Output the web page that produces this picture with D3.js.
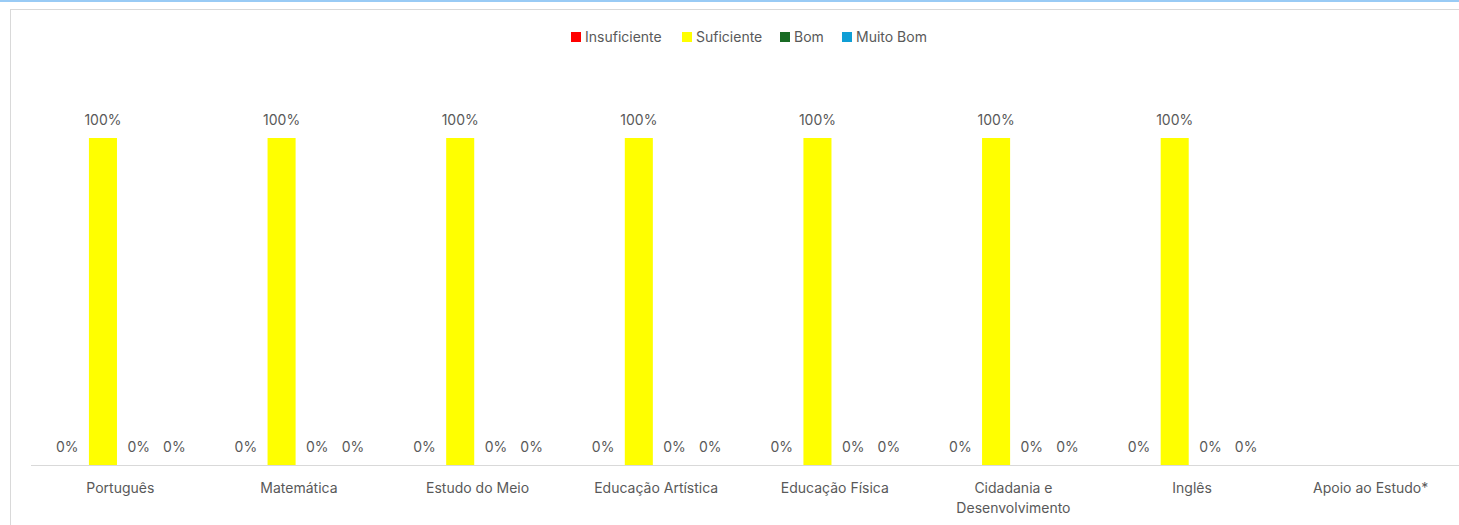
<!DOCTYPE html>
<html>
<head>
<meta charset="utf-8">
<script src="https://cdn.jsdelivr.net/npm/d3@7"></script>
<style>
  body { margin: 0; background: #fff; }
  svg { display: block; font-family: Inter, "Noto Sans", sans-serif; }
</style>
</head>
<body>
<div id="chart"></div>
<script>
// Chart data
const categories = ['Português', 'Matemática', 'Estudo do Meio', 'Educação Artística',
  'Educação Física', 'Cidadania e Desenvolvimento', 'Inglês', 'Apoio ao Estudo*'];
const seriesNames = ['Insuficiente', 'Suficiente', 'Bom', 'Muito Bom'];
const seriesColors = ['#ff0000', '#ffff00', '#196b24', '#0f9ed5'];
const insuficiente = [0, 0, 0, 0, 0, 0, 0, null];
const suficiente = [1, 1, 1, 1, 1, 1, 1, null];
const bom = [0, 0, 0, 0, 0, 0, 0, null];
const muitoBom = [0, 0, 0, 0, 0, 0, 0, null];
const seriesValues = [insuficiente, suficiente, bom, muitoBom];

const width = 1459, height = 525;
const svg = d3.select('#chart').append('svg')
  .attr('width', width).attr('height', height);

// top blue strip and chart frame
svg.append('rect').attr('x', 0).attr('y', 0).attr('width', width).attr('height', 2)
  .attr('fill', '#99cbf5');
svg.append('rect').attr('x', 10.5).attr('y', 9.5).attr('width', width + 10).attr('height', height)
  .attr('fill', '#fff').attr('stroke', '#d9d9d9');

const plot = { left: 31, right: 1460, top: 72.6, bottom: 465 };

const x = d3.scaleBand().domain(categories).range([plot.left, plot.right]).padding(0);
const xInner = d3.scaleBand().domain(seriesNames)
  .range([0, x.bandwidth() * 0.8]).paddingInner(0.215).paddingOuter(0.1075);
const y = d3.scaleLinear().domain([0, 1.2]).range([plot.bottom, plot.top]);

const groupOffset = x.bandwidth() * 0.1 + 0.5;

// baseline
svg.append('line')
  .attr('x1', plot.left).attr('x2', plot.right)
  .attr('y1', plot.bottom + 0.5).attr('y2', plot.bottom + 0.5)
  .attr('stroke', '#d9d9d9').attr('stroke-width', 1.2);

const groups = svg.selectAll('g.cat')
  .data(categories)
  .join('g')
  .attr('class', 'cat')
  .attr('transform', d => `translate(${x(d) + groupOffset},0)`);

seriesNames.forEach((name, si) => {
  groups.each(function (d, ci) {
    const v = seriesValues[si][ci];
    if (v == null) return;
    const g = d3.select(this);
    g.append('rect')
      .attr('x', xInner(name))
      .attr('width', xInner.bandwidth())
      .attr('y', y(v))
      .attr('height', y(0) - y(v))
      .attr('fill', seriesColors[si]);
    g.append('text')
      .attr('x', xInner(name) + xInner.bandwidth() / 2)
      .attr('y', y(v) - 13)
      .attr('text-anchor', 'middle')
      .attr('font-size', '14px')
      .attr('fill', '#595959')
      .text(d3.format('.0%')(v));
  });
});

// category labels
const labelLines = {
  'Cidadania e Desenvolvimento': ['Cidadania e', 'Desenvolvimento']
};
categories.forEach(c => {
  const lines = labelLines[c] || [c];
  const t = svg.append('text')
    .attr('text-anchor', 'middle')
    .attr('font-size', '14px')
    .attr('fill', '#595959');
  lines.forEach((ln, i) => {
    t.append('tspan')
      .attr('x', x(c) + x.bandwidth() / 2)
      .attr('y', 493 + i * 19.5)
      .text(ln);
  });
});

// legend
const legendX = [571, 682, 780, 842];
const legend = svg.append('g');
seriesNames.forEach((name, i) => {
  legend.append('rect')
    .attr('x', legendX[i]).attr('y', 32)
    .attr('width', 10).attr('height', 10)
    .attr('fill', seriesColors[i]);
  legend.append('text')
    .attr('x', legendX[i] + 14).attr('y', 42)
    .attr('font-size', '14px')
    .attr('fill', '#595959')
    .text(name);
});
</script>
</body>
</html>
